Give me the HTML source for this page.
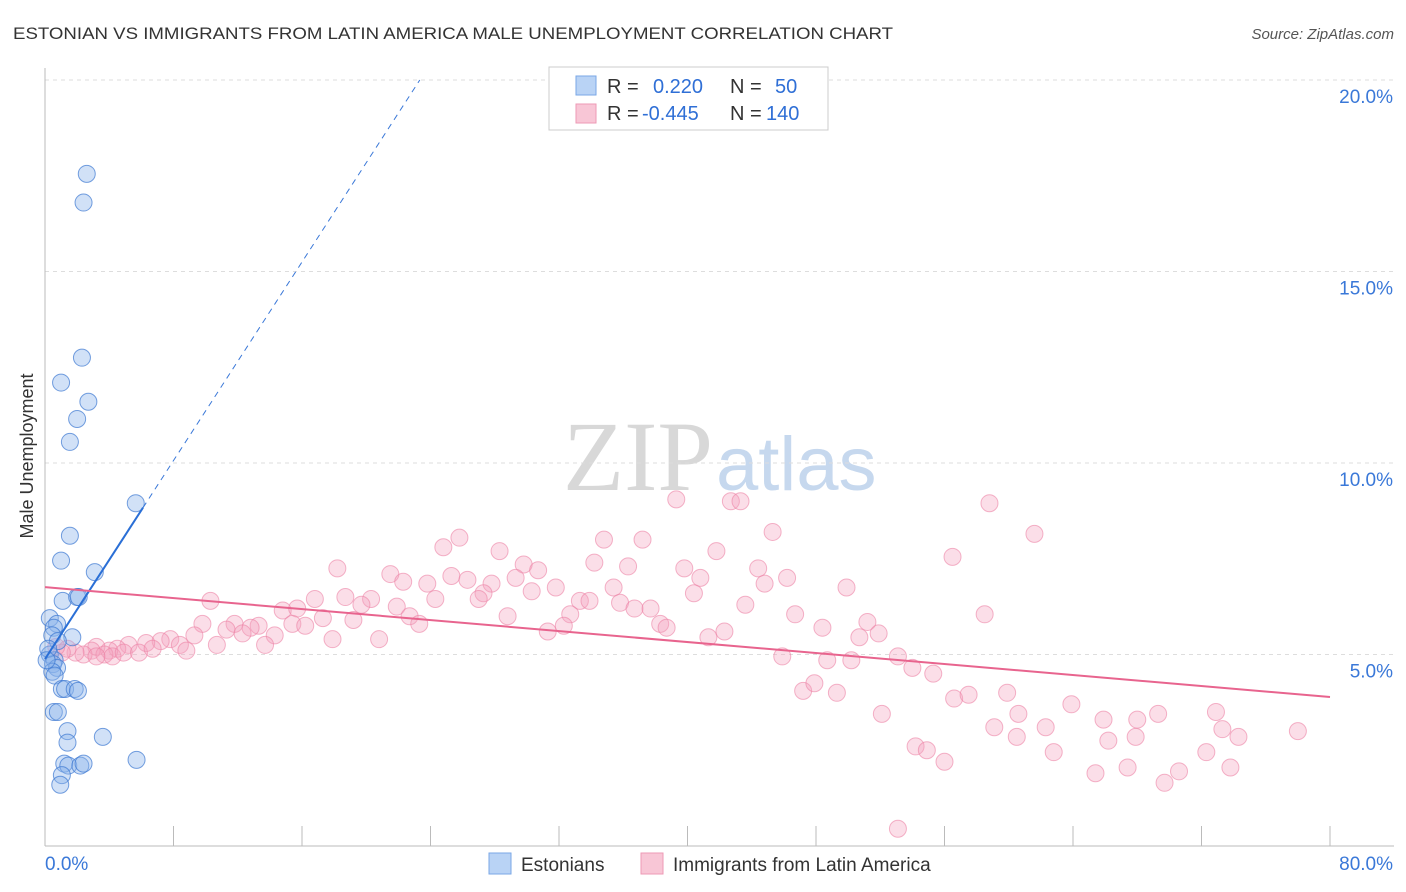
<!DOCTYPE html>
<html><head><meta charset="utf-8"><style>
body{margin:0;background:#fff;font-family:"Liberation Sans",sans-serif;}
#wrap{position:relative;width:1406px;height:892px;overflow:hidden;}
</style></head><body>
<div id="wrap">
<svg id="svg" width="1406" height="892" xmlns="http://www.w3.org/2000/svg">
<text x="13" y="39" font-size="17" fill="#333" textLength="880" lengthAdjust="spacingAndGlyphs">ESTONIAN VS IMMIGRANTS FROM LATIN AMERICA MALE UNEMPLOYMENT CORRELATION CHART</text>
<text x="1394" y="39" font-size="15" fill="#555" font-style="italic" text-anchor="end">Source: ZipAtlas.com</text>
<text x="33" y="456" font-size="18" fill="#333" text-anchor="middle" transform="rotate(-90 33 456)">Male Unemployment</text>
<text x="713" y="490" font-size="100" fill="#d8d8d8" text-anchor="end" font-family="Liberation Serif,serif">ZIP</text>
<text x="716" y="490" font-size="76" fill="#c6d8ee">atlas</text>
<g id="grid"></g><g id="axes"></g><g id="pink"></g><g id="blue"></g><g id="lines"></g>
<g>
<rect x="549" y="67" width="279" height="63" fill="#fff" stroke="#ccc"/>
<rect x="576" y="76" width="20" height="19" fill="#b9d3f5" stroke="#7aa7e6"/>
<rect x="576" y="104" width="20" height="19" fill="#f8c6d6" stroke="#ee9ab5"/>
<text y="93" font-size="20" fill="#333"><tspan x="607">R =</tspan><tspan x="653" fill="#2f6fd6">0.220</tspan><tspan x="730">N =</tspan><tspan x="775" fill="#2f6fd6">50</tspan></text>
<text y="120" font-size="20" fill="#333"><tspan x="607">R =</tspan><tspan x="642" fill="#2f6fd6">-0.445</tspan><tspan x="730">N =</tspan><tspan x="766" fill="#2f6fd6">140</tspan></text>
</g>
<rect x="489" y="853" width="22" height="21" fill="#b9d3f5" stroke="#7aa7e6"/>
<text x="521" y="871" font-size="19" fill="#333">Estonians</text>
<rect x="641" y="853" width="22" height="21" fill="#f8c6d6" stroke="#ee9ab5"/>
<text x="673" y="871" font-size="19" fill="#333">Immigrants from Latin America</text>
</svg>
</div>
<script>
const yTicks=[5,10,15,20];
const yTickLabels=["5.0%","10.0%","15.0%","20.0%"];
const xTickVals=[0,8,16,24,32,40,48,56,64,72,80];
const xEndLabels=["0.0%","80.0%"];
const blueX=[2.6,2.4,2.3,1.0,2.7,2.0,1.55,5.65,1.55,1.0,3.1,1.1,2.0,2.1,0.3,0.75,0.55,1.7,0.45,0.8,0.3,0.6,0.5,0.75,0.45,0.6,1.05,1.25,1.85,2.05,0.55,0.8,1.4,1.4,3.6,1.2,1.45,2.2,2.4,1.05,0.95,5.7,0.2,0.1];
const blueY=[17.55,16.8,12.75,12.1,11.6,11.15,10.55,8.95,8.1,7.45,7.15,6.4,6.5,6.5,5.95,5.8,5.7,5.45,5.5,5.35,5.0,4.85,4.75,4.65,4.55,4.45,4.1,4.1,4.1,4.05,3.5,3.5,3.0,2.7,2.85,2.15,2.1,2.1,2.15,1.85,1.6,2.25,5.15,4.85];
const pinkX=[39.3,42.7,43.3,58.8,25.8,24.8,34.8,37.2,45.3,61.6,28.3,29.8,30.7,34.2,36.3,41.8,44.4,56.5,18.2,21.5,22.3,23.8,25.3,26.3,27.8,27.3,29.3,30.3,31.8,39.8,40.8,44.8,46.2,35.4,40.4,49.9,10.3,16.8,18.7,20.3,19.7,24.3,27.0,33.3,33.9,35.8,43.6,14.8,15.7,21.9,22.7,23.3,28.8,32.7,36.7,37.7,46.7,58.5,51.2,9.8,11.8,13.3,15.4,17.3,19.2,16.2,12.8,11.3,12.3,14.3,31.3,32.3,38.3,38.7,48.4,51.9,50.7,42.3,41.3,20.8,17.9,9.3,7.8,7.2,6.3,5.2,4.5,4.0,3.2,2.9,2.4,1.9,1.4,1.05,0.7,3.7,4.2,4.9,5.85,6.7,8.4,8.8,10.7,13.7,3.2,45.9,48.7,50.2,53.1,54.0,55.3,47.2,47.9,49.3,56.6,57.5,59.9,63.9,52.1,60.6,65.9,68.0,69.3,72.9,59.1,62.3,60.5,66.2,67.9,73.3,74.3,78.0,54.2,54.9,56.0,62.8,72.3,65.4,67.4,69.7,70.6,73.8,53.1];
const pinkY=[9.05,9.0,9.0,8.95,8.05,7.8,8.0,8.0,8.2,8.15,7.7,7.35,7.2,7.4,7.3,7.7,7.25,7.55,7.25,7.1,6.9,6.85,7.05,6.95,6.85,6.6,7.0,6.65,6.75,7.25,7.0,6.85,7.0,6.75,6.6,6.75,6.4,6.45,6.5,6.45,6.3,6.45,6.45,6.4,6.4,6.35,6.3,6.15,6.2,6.25,6.0,5.8,6.0,6.05,6.2,6.2,6.05,6.05,5.85,5.8,5.8,5.75,5.8,5.95,5.9,5.75,5.7,5.65,5.55,5.5,5.6,5.75,5.8,5.7,5.7,5.55,5.45,5.6,5.45,5.4,5.4,5.5,5.4,5.35,5.3,5.25,5.15,5.1,5.2,5.1,5.0,5.05,5.15,5.05,5.2,5.0,4.95,5.05,5.05,5.15,5.25,5.1,5.25,5.25,4.95,4.95,4.85,4.85,4.95,4.65,4.5,4.05,4.25,4.0,3.85,3.95,4.0,3.7,3.45,3.45,3.3,3.3,3.45,3.5,3.1,3.1,2.85,2.75,2.85,3.05,2.85,3.0,2.6,2.5,2.2,2.45,2.45,1.9,2.05,1.65,1.95,2.05,0.45];
const blueTrend=[4.88,0.648];
const pinkTrend=[6.76,3.89];
const X0=45,X1=1330,Y0=846,PXY=38.3;
const sx=v=>X0+(v/80)*(X1-X0);
const sy=v=>Y0-v*PXY;
const NS="http://www.w3.org/2000/svg";
function mk(tag,parent,attrs){const e=document.createElementNS(NS,tag);for(const k in attrs)e.setAttribute(k,attrs[k]);document.getElementById(parent).appendChild(e);return e;}
let e;
yTicks.forEach((t,i)=>{
 const g=mk('line','grid',{x1:X0,x2:1394,y1:sy(t),y2:sy(t),stroke:'#ddd','stroke-dasharray':'4,4'});
 
 
 const l=mk('text','grid',{x:1393,y:sy(t)+23,'font-size':19,fill:'#3a78d8','text-anchor':'end'});
 l.textContent=yTickLabels[i];
 
 
});
e=mk('line','axes',{x1:X0,x2:X0,y1:68,y2:Y0,stroke:'#bbb'});


e=mk('line','axes',{x1:X0,x2:1394,y1:Y0,y2:Y0,stroke:'#bbb'});


xTickVals.forEach(t=>{
 const k=mk('line','axes',{x1:sx(t),x2:sx(t),y1:826,y2:Y0,stroke:'#bbb'});
 
 
});
e=mk('text','axes',{x:45,y:870,'font-size':19,fill:'#3a78d8'});e.textContent=xEndLabels[0];


e=mk('text','axes',{x:1393,y:870,'font-size':19,fill:'#3a78d8','text-anchor':'end'});e.textContent=xEndLabels[1];


pinkX.forEach((x,i)=>{
 const c=mk('circle','pink',{cx:sx(x),cy:sy(pinkY[i]),r:8.5,fill:'rgba(244,160,188,0.35)',stroke:'rgba(236,130,165,0.6)','stroke-width':1});
 
 
});
blueX.forEach((x,i)=>{
 const c=mk('circle','blue',{cx:sx(x),cy:sy(blueY[i]),r:8.5,fill:'rgba(140,180,235,0.4)',stroke:'rgba(60,120,210,0.7)','stroke-width':1});
 
 
});
const bEnd=(20-blueTrend[0])/blueTrend[1];
e=mk('line','lines',{x1:sx(6.1),y1:sy(blueTrend[0]+blueTrend[1]*6.1),x2:sx(bEnd),y2:sy(20),stroke:'#3a78d8','stroke-width':1,'stroke-dasharray':'6,5'});


e=mk('line','lines',{x1:sx(0),y1:sy(blueTrend[0]),x2:sx(6.1),y2:sy(blueTrend[0]+blueTrend[1]*6.1),stroke:'#2a6fd6','stroke-width':2});


e=mk('line','lines',{x1:sx(0),y1:sy(pinkTrend[0]),x2:sx(80),y2:sy(pinkTrend[1]),stroke:'#e8648e','stroke-width':2});


</script>
</body></html>
